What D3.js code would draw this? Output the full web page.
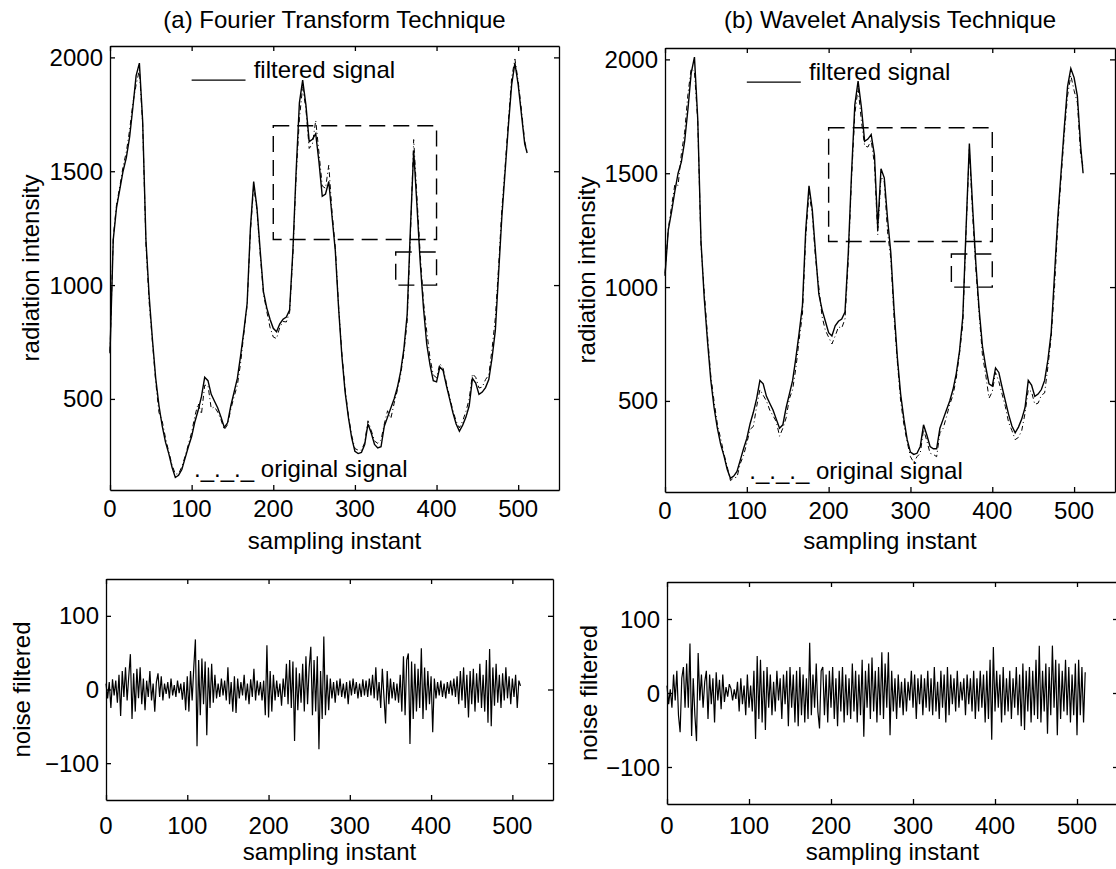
<!DOCTYPE html>
<html>
<head>
<meta charset="utf-8">
<script src="https://cdn.jsdelivr.net/npm/d3@7"></script>
<style>
  body { margin: 0; background: #fff; }
  text { font-family: "Liberation Sans", Arial, Helvetica, sans-serif; fill: #000; }
</style>
</head>
<body>
<script>
// sampling instants of the read-off points
const filtX = d3.range(0, 512, 4).concat([511]);
const noiseX = d3.range(0, 512, 2);

const xTicks = [0, 100, 200, 300, 400, 500];
const yTicksTop = [500, 1000, 1500, 2000];
const yTicksBottom = [-100, 0, 100];
const titles = ["(a) Fourier Transform Technique", "(b) Wavelet Analysis Technique"];

// filtered signal, Fourier transform technique
const filteredA = [
  700,1200,1340,1420,1500,1560,1650,1780,1920,1975,
  1720,1200,950,760,590,470,380,310,260,200,
  155,165,190,240,290,335,400,450,510,595,
  580,520,490,460,420,375,395,470,530,590,
  690,800,920,1250,1455,1340,1150,970,900,850,
  810,795,830,850,860,890,1150,1500,1800,1900,
  1790,1630,1640,1665,1540,1390,1400,1455,1300,1150,
  900,690,530,420,330,270,260,265,300,390,
  350,300,285,290,380,420,460,500,550,620,
  720,870,1250,1590,1350,1100,900,740,650,580,
  575,640,625,560,500,440,390,358,385,420,
  470,590,570,520,530,550,585,680,800,1050,
  1300,1500,1700,1880,1975,1880,1750,1620,1580
];

// filtered signal, wavelet analysis technique
const filteredB = [
  1050,1250,1330,1420,1500,1550,1640,1780,1940,2010,
  1740,1200,950,760,590,470,380,310,260,200,
  160,170,190,240,290,335,400,450,510,590,
  575,520,490,460,420,380,395,470,530,590,
  690,800,920,1250,1445,1340,1150,970,900,850,
  800,785,830,850,860,890,1150,1500,1800,1905,
  1790,1640,1650,1670,1580,1260,1520,1480,1300,1150,
  900,690,530,420,330,275,265,270,300,395,
  350,300,290,290,380,420,460,500,550,620,
  720,870,1260,1630,1350,1100,900,740,650,575,
  565,645,625,560,500,440,390,360,385,420,
  470,590,570,520,530,550,590,680,800,1050,
  1300,1500,1700,1880,1960,1920,1840,1620,1500
];

// noise filtered, Fourier (every 2nd sample)
const noiseA = [
  8,-12,10,-25,14,-8,12,-18,20,-36,25,-10,30,-15,18,48,
  -40,22,-30,28,-12,30,-20,15,-28,12,-10,25,-15,8,-30,10,
  22,-10,18,-15,8,-6,10,-12,15,-8,6,-10,12,-5,8,-14,
  10,-28,18,-30,25,-15,30,68,-77,40,-35,42,-20,38,-62,30,
  -25,35,-18,20,-12,8,-10,15,-8,12,-15,30,-20,10,-30,18,
  -32,15,-12,10,-8,20,-15,8,-20,14,-10,28,-15,12,-8,10,
  -15,12,-35,60,-38,25,-30,20,-15,12,-10,8,-22,15,-10,35,
  -20,40,-25,38,-70,30,-28,22,-18,35,-30,45,-20,30,58,-35,
  40,-30,45,-81,25,-40,72,-35,20,-28,15,-12,10,-18,12,-8,
  15,-10,8,-12,10,-20,12,-8,15,-6,10,-12,8,-10,14,-8,
  12,-10,15,-8,20,-12,30,-15,10,-25,28,-10,-46,25,-20,15,
  -12,10,-15,8,-18,20,-30,45,-35,40,49,-74,38,-40,35,-30,
  28,-25,56,-40,30,-28,25,-20,18,-58,15,-12,10,-8,12,-10,
  8,-12,10,-6,12,-8,15,-10,18,-20,25,-15,30,-25,20,-38,
  25,-20,28,-30,22,-18,35,-25,20,-30,40,-45,55,-50,30,-22,
  35,-18,20,-25,22,-15,30,-12,18,-20,15,-10,20,-25,12,5
];

// noise filtered, wavelet (every 2nd sample)
const noiseB = [
  10,-15,5,-20,25,-10,30,-30,-53,20,35,-20,40,-20,67,-58,
  20,-30,-65,54,-10,25,-20,15,30,-35,25,-15,20,-40,28,-10,
  18,-22,25,-12,8,-5,12,6,-10,5,-8,15,-25,20,-15,10,
  -30,25,-20,10,-25,30,-62,50,-35,45,-40,30,-50,35,-20,25,
  -30,15,-25,30,-10,20,-35,25,-15,30,-45,35,-20,25,-40,30,
  -45,35,-30,25,-40,20,-35,68,-30,25,-20,40,-25,-48,30,35,
  -30,25,-40,30,-20,35,-35,20,-45,30,-25,35,-40,25,-30,20,
  -35,40,-25,30,-40,25,-30,45,-59,30,-20,40,-35,48,-25,30,
  -40,35,-30,55,-35,40,-20,55,-57,30,-25,20,-35,25,-20,15,
  -30,20,-25,15,-10,30,-20,25,-35,20,-15,25,-30,20,-20,30,
  -25,20,-30,35,-25,15,-35,30,-20,25,-40,35,-30,25,-15,20,
  -25,30,-20,15,-10,20,-30,25,-15,20,-25,30,-35,20,-25,30,
  -20,25,-40,30,-35,45,-63,62,-25,30,-20,25,-40,35,-30,20,
  -25,30,-35,20,-20,35,-30,25,-45,40,-50,30,-25,35,-40,30,
  -30,45,-35,64,-40,30,-25,40,-55,35,-30,64,-20,45,-57,40,
  -35,30,-25,45,-30,35,-40,25,-30,40,-57,45,-30,35,-40,28
];

const FS = 24;

const svg = d3.select("body")
  .append("svg")
  .attr("width", 1116)
  .attr("height", 869);

function label(px, py, str, anchor, rot) {
  return svg.append("text")
    .attr("transform", "translate(" + px + "," + py + ")" + (rot ? " rotate(" + rot + ")" : ""))
    .attr("text-anchor", anchor)
    .attr("font-size", FS)
    .text(str);
}

function fmt(v) {
  return v < 0 ? "\u2212" + Math.abs(v) : String(v);
}

// box with inward ticks on all four sides, plus tick labels
function frame(x, y, yTicks, xLabelY) {
  const [x0, x1] = x.range();
  const [y0, y1] = y.range();
  const axes = [
    [d3.axisTop(x).tickValues(xTicks), "translate(0," + y0 + ")"],
    [d3.axisBottom(x).tickValues(xTicks), "translate(0," + y1 + ")"],
    [d3.axisRight(y).tickValues(yTicks), "translate(" + x0 + ",0)"],
    [d3.axisLeft(y).tickValues(yTicks), "translate(" + x1 + ",0)"]
  ];
  axes.forEach(function(a) {
    svg.append("g")
      .attr("transform", a[1])
      .call(a[0].tickSize(5).tickSizeOuter(0).tickFormat(""))
      .call(g => g.selectAll("path, line").attr("stroke", "#000").attr("stroke-width", 1.3));
  });
  xTicks.forEach(v => label(x(v), xLabelY, fmt(v), "middle"));
  yTicks.forEach(v => label(x0 - 7, y(v) + 8.5, fmt(v), "end"));
}

const topBoxes = [
  { left: 110, right: 559, top: 46, bottom: 490, ylab: 39, tickY: 517 },
  { left: 665, right: 1115, top: 48, bottom: 492, ylab: 595, tickY: 519 }
];
const botBoxes = [
  { left: 106, right: 553, top: 579, bottom: 800, ylab: 30 },
  { left: 667, right: 1118, top: 582, bottom: 804, ylab: 597 }
];
const filteredSets = [filteredA, filteredB];
const noiseSets = [noiseA, noiseB];

topBoxes.forEach(function(b, k) {
  const x = d3.scaleLinear().domain([0, 550]).range([b.left, b.right]);
  const y = d3.scaleLinear().domain([100, 2050]).range([b.bottom, b.top]);
  const filtered = filteredSets[k];
  const noise = noiseSets[k];

  const line = d3.line().x(d => x(d[0])).y(d => y(d[1]));
  const filtPts = filtX.map((t, i) => [t, filtered[i]]);
  const origPts = filtX.map((t, i) => [t, filtered[i] + noise[Math.floor(t / 2)]]);

  svg.append("path")
    .attr("d", line(origPts))
    .attr("fill", "none")
    .attr("stroke", "#000")
    .attr("stroke-width", 1)
    .attr("stroke-dasharray", "5,3,1,3");

  svg.append("path")
    .attr("d", line(filtPts))
    .attr("fill", "none")
    .attr("stroke", "#000")
    .attr("stroke-width", 1.4);

  // dashed boxes
  [[200, 400, 1200, 1700], [350, 400, 1000, 1145]].forEach(function(r) {
    svg.append("rect")
      .attr("x", x(r[0]))
      .attr("y", y(r[3]))
      .attr("width", x(r[1]) - x(r[0]))
      .attr("height", y(r[2]) - y(r[3]))
      .attr("fill", "none")
      .attr("stroke", "#000")
      .attr("stroke-width", 1.4)
      .attr("stroke-dasharray", "16,8");
  });

  // legend annotations
  svg.append("line")
    .attr("x1", x(100)).attr("x2", x(166))
    .attr("y1", y(1900)).attr("y2", y(1900))
    .attr("stroke", "#000").attr("stroke-width", 1.4);
  label(x(176), y(1910), "filtered signal", "start");
  label(x(103), y(158), "._._._ original signal", "start");

  frame(x, y, yTicksTop, b.tickY);

  label((b.left + b.right) / 2, 28, titles[k], "middle");
  label((b.left + b.right) / 2, 549, "sampling instant", "middle");
  label(b.ylab, (b.top + b.bottom) / 2, "radiation intensity", "middle", -90);
});

botBoxes.forEach(function(b, k) {
  const x = d3.scaleLinear().domain([0, 550]).range([b.left, b.right]);
  const y = d3.scaleLinear().domain([-150, 150]).range([b.bottom, b.top]);
  const noise = noiseSets[k];

  const line = d3.line().x(d => x(d[0])).y(d => y(d[1]));
  svg.append("path")
    .attr("d", line(noiseX.map((t, i) => [t, noise[i]])))
    .attr("fill", "none")
    .attr("stroke", "#000")
    .attr("stroke-width", 1.2);

  frame(x, y, yTicksBottom, 834);

  label((b.left + b.right) / 2, 860, "sampling instant", "middle");
  label(b.ylab, (b.top + b.bottom) / 2, "noise filtered", "middle", -90);
});
</script>
</body>
</html>
